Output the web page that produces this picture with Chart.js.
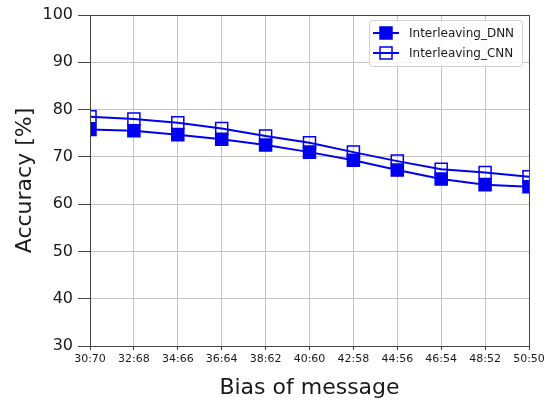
<!DOCTYPE html>
<html>
<head>
<meta charset="utf-8">
<script src="https://cdn.jsdelivr.net/npm/chart.js@4.4.0/dist/chart.umd.min.js"></script>
<style>
  html, body { margin: 0; padding: 0; background: #fff; }
  canvas { display: block; }
</style>
</head>
<body>
<canvas id="chart" width="553" height="403"></canvas>
<script>
const biasLabels = ["30:70", "32:68", "34:66", "36:64", "38:62", "40:60", "42:58", "44:56", "46:54", "48:52", "50:50"];
const dnnAccuracy = [75.8, 75.5, 74.7, 73.7, 72.5, 71.0, 69.3, 67.2, 65.3, 64.1, 63.7];
const cnnAccuracy = [78.5, 78.0, 77.2, 76.0, 74.4, 73.0, 71.0, 69.1, 67.4, 66.7, 65.8];
const yTicks = [30, 40, 50, 60, 70, 80, 90, 100];

Chart.defaults.font.family = "'DejaVu Sans', sans-serif";
Chart.defaults.color = "#1a1a1a";

// frame round the plot area + legend inside top-right, matplotlib style
const frameAndLegend = {
  id: "frameAndLegend",
  afterDraw(chart) {
    const { ctx, chartArea: a } = chart;
    ctx.save();
    ctx.strokeStyle = "#444";
    ctx.lineWidth = 1;
    ctx.strokeRect(a.left + 0.5, a.top + 0.5, a.right - a.left, a.bottom - a.top);

    // legend box
    const bx = 369, by = 20, bw = 153, bh = 46;
    ctx.fillStyle = "rgba(255,255,255,0.85)";
    ctx.strokeStyle = "#d0d0d0";
    ctx.beginPath();
    ctx.roundRect(bx + 0.5, by + 0.5, bw, bh, 3);
    ctx.fill();
    ctx.stroke();

    ctx.font = "12px 'DejaVu Sans'";
    ctx.textBaseline = "middle";
    ctx.textAlign = "left";
    chart.data.datasets.forEach((ds, i) => {
      const y = by + 13 + i * 20;
      ctx.strokeStyle = ds.borderColor;
      ctx.lineWidth = 2;
      ctx.beginPath();
      ctx.moveTo(bx + 4, y);
      ctx.lineTo(bx + 30, y);
      ctx.stroke();
      ctx.lineWidth = 1.5;
      ctx.fillStyle = ds.pointBackgroundColor;
      ctx.beginPath();
      ctx.rect(bx + 11, y - 6, 12, 12);
      ctx.fill();
      ctx.stroke();
      ctx.fillStyle = "#1a1a1a";
      ctx.fillText(ds.label, bx + 40, y + 1);
    });
    ctx.restore();
  }
};

new Chart(document.getElementById("chart"), {
  type: "line",
  data: {
    labels: biasLabels,
    datasets: [
      {
        label: "Interleaving_DNN",
        data: dnnAccuracy,
        borderColor: "#0000ee",
        borderWidth: 2,
        pointStyle: "rect",
        pointRadius: 8.5,
        pointBorderWidth: 1.5,
        pointBackgroundColor: "#0000ee",
        pointBorderColor: "#0000ee",
        clip: 0,
      },
      {
        label: "Interleaving_CNN",
        data: cnnAccuracy,
        borderColor: "#0000ee",
        borderWidth: 2,
        pointStyle: "rect",
        pointRadius: 8.5,
        pointBorderWidth: 1.5,
        pointBackgroundColor: "rgba(0,0,0,0)",
        pointBorderColor: "#0000ee",
        clip: 0,
      },
    ],
  },
  options: {
    responsive: false,
    animation: false,
    layout: { padding: { left: 0, top: 15, right: 24, bottom: 0 } },
    plugins: { legend: { display: false }, tooltip: { enabled: false } },
    elements: { line: { tension: 0 } },
    scales: {
      x: {
        offset: false,
        grid: { color: "#c4c4c4", lineWidth: 1, tickLength: 4, tickColor: "#444", offset: false },
        border: { color: "#444", width: 1 },
        ticks: { font: { size: 11 }, maxRotation: 0, autoSkip: false, padding: 3, color: "#1a1a1a" },
        title: { display: true, text: "Bias of message", font: { size: 22 }, color: "#1a1a1a", padding: { top: 0, bottom: 2 } },
        afterFit(scale) { scale.height = 57; },
      },
      y: {
        min: 30,
        max: 100,
        afterBuildTicks(scale) { scale.ticks = yTicks.map(v => ({ value: v })); },
        grid: { color: "#c4c4c4", lineWidth: 1, tickLength: 12, tickColor: "#444" },
        border: { color: "#444", width: 1 },
        ticks: { font: { size: 16 }, padding: 5, color: "#1a1a1a" },
        title: { display: true, text: "Accuracy [%]", font: { size: 22 }, color: "#1a1a1a", padding: { top: 12, bottom: 0 } },
        afterFit(scale) { scale.width = 90; },
      },
    },
  },
  plugins: [frameAndLegend],
});
</script>
</body>
</html>
